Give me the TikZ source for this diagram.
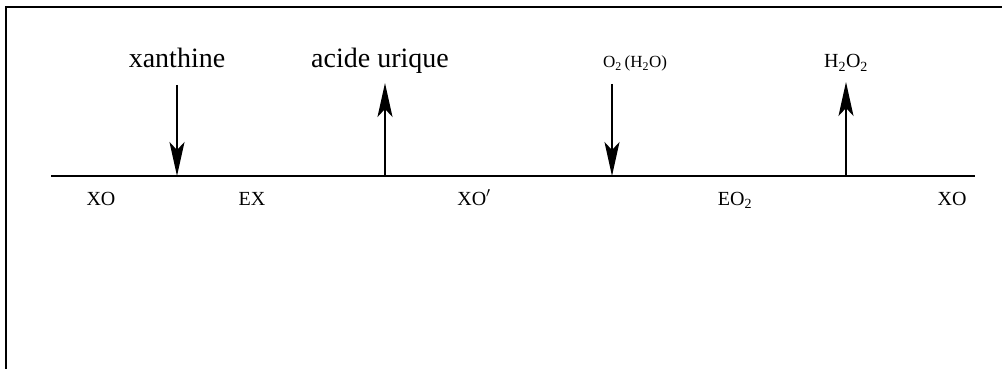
\documentclass[tikz,border=0pt]{standalone}
\usepackage{fontspec}
\setmainfont{Liberation Serif}
\usetikzlibrary{arrows.meta}
\begin{document}
\begin{tikzpicture}[x=1pt,y=-1pt,
  big/.style={anchor=base,inner sep=0pt,font=\fontsize{28}{30}\selectfont},
  small/.style={anchor=base,inner sep=0pt,font=\fontsize{20}{22}\selectfont},
  mid/.style={anchor=base,inner sep=0pt,font=\fontsize{20}{22}\selectfont},
  tiny/.style={anchor=base,inner sep=0pt,font=\fontsize{17}{19}\selectfont},
  arr/.style={line width=1.6pt,-{Stealth[length=34pt,width=15pt,inset=8pt]}},
  frame/.style={line width=2.2pt,black}]
\useasboundingbox (0,0) rectangle (1002,369);
% frame (only top and left visible)
\coordinate (fc) at (6,7);
\coordinate (fr) at (1002,7);
\coordinate (fb) at (6,369);
\draw[frame] (fr) -- (fc) -- (fb);
% main line
\coordinate (L) at (51,176);
\coordinate (R) at (975,176);
\draw[line width=1.8pt] (L) -- (R);
% points on the line
\coordinate (p1) at (177,176);
\coordinate (p2) at (385,176);
\coordinate (p3) at (612,176);
\coordinate (p4) at (846,176);
% arrow ends
\coordinate (t1) at (177,85);
\coordinate (t2) at (385,83);
\coordinate (t3) at (612,84);
\coordinate (t4) at (846,82);
\draw[arr] (t1) -- (p1);
\draw[arr] (p2) -- (t2);
\draw[arr] (t3) -- (p3);
\draw[arr] (p4) -- (t4);
% top labels
\node[big] (xan) at (177,68) {xanthine};
\node[big] (acu) at (380,68) {acide urique};
\node[tiny] (o2) at (635,68) {O\textsubscript{2}\,(H\textsubscript{2}O)};
\node[mid] (h2o2) at (846,68) {H\textsubscript{2}O\textsubscript{2}};
% bottom labels
\node[small] (xo1) at (101,205) {XO};
\node[small] (ex) at (252,205) {EX};
\node[small] (xo2) at (474,205) {XO$'$};
\node[small] (eo2) at (735,205) {EO\textsubscript{2}};
\node[small] (xo3) at (952,205) {XO};
\end{tikzpicture}
\end{document}
